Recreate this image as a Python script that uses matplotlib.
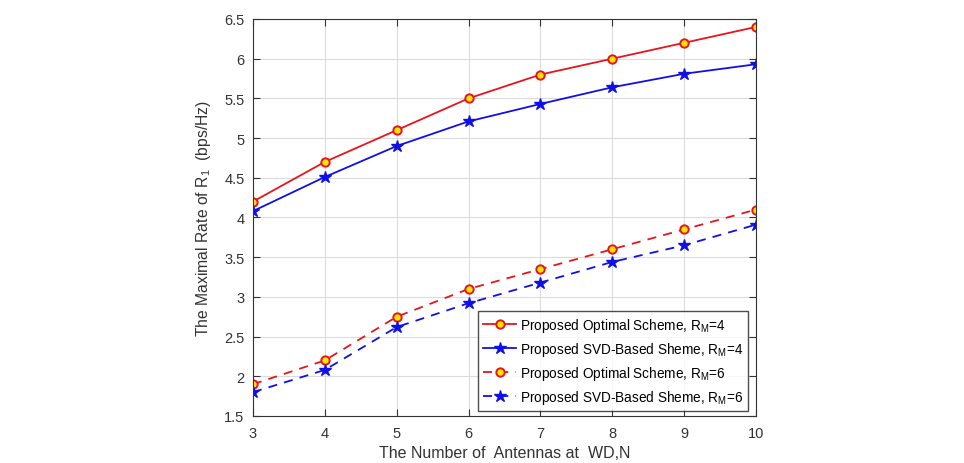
import matplotlib
matplotlib.use("Agg")
import matplotlib.pyplot as plt

plt.rcParams['font.family'] = ['Liberation Sans', 'DejaVu Sans']

antennas = [3, 4, 5, 6, 7, 8, 9, 10]
opt_rm4 = [4.2, 4.7, 5.1, 5.5, 5.8, 6.0, 6.2, 6.4]
svd_rm4 = [4.08, 4.51, 4.9, 5.21, 5.43, 5.64, 5.81, 5.93]
opt_rm6 = [1.9, 2.2, 2.75, 3.1, 3.35, 3.6, 3.85, 4.1]
svd_rm6 = [1.8, 2.08, 2.62, 2.92, 3.18, 3.44, 3.65, 3.91]

labels = [r'Proposed Optimal Scheme, R$_\mathregular{M}$=4',
          r'Proposed SVD-Based Sheme, R$_\mathregular{M}$=4',
          r'Proposed Optimal Scheme, R$_\mathregular{M}$=6',
          r'Proposed SVD-Based Sheme, R$_\mathregular{M}$=6']

fig = plt.figure(figsize=(9.64, 4.64), dpi=100)
ax = fig.add_axes([0.2624, 0.1013, 0.5218, 0.8556])

red = '#e8141c'
blue = '#1010e6'
ax.plot(antennas, opt_rm4, '-', color=red, lw=1.3, marker='o', ms=6,
        mfc='#ffe600', mec=red, mew=1.4, label=labels[0])
ax.plot(antennas, svd_rm4, '-', color=blue, lw=1.3, marker='*', ms=9,
        mfc=blue, mec=blue, label=labels[1])
ax.plot(antennas, opt_rm6, '--', color=red, lw=1.3, marker='o', ms=6,
        mfc='#ffe600', mec=red, mew=1.4, dashes=(5, 4), label=labels[2])
ax.plot(antennas, svd_rm6, '--', color=blue, lw=1.3, marker='*', ms=9,
        mfc=blue, mec=blue, dashes=(5, 4), label=labels[3])

ax.set_xlim(3, 10)
ax.set_ylim(1.5, 6.5)
ax.set_xticks(antennas)
ax.set_yticks([1.5, 2, 2.5, 3, 3.5, 4, 4.5, 5, 5.5, 6, 6.5])
ax.set_yticklabels(['1.5', '2', '2.5', '3', '3.5', '4', '4.5', '5', '5.5', '6', '6.5'])
ax.grid(True, color='#dcdcdc', lw=0.8)
ax.set_axisbelow(True)
ax.tick_params(direction='in', top=True, right=True, labelsize=10.5, colors='#333333',
               length=5)
ax.tick_params(axis='y', pad=6)
ax.tick_params(axis='x', pad=7)
for s in ax.spines.values():
    s.set_color('#333333')
    s.set_linewidth(0.8)

ax.set_xlabel('The Number of  Antennas at  WD,N', fontsize=11.5, color='#333333', labelpad=4)
ax.set_ylabel(r'The Maximal Rate of R$_\mathregular{1}$  (bps/Hz)', fontsize=11.3,
              color='#333333', labelpad=8)

leg = ax.legend(loc='lower right', bbox_to_anchor=(0.984, 0.0126), fontsize=9.8,
                frameon=True, fancybox=False, edgecolor='#222222',
                handlelength=2.4, handletextpad=0.3, borderpad=0.35,
                labelspacing=0.45, borderaxespad=0.0)
leg.get_frame().set_linewidth(1.0)

fig.savefig('out.png', dpi=100)
